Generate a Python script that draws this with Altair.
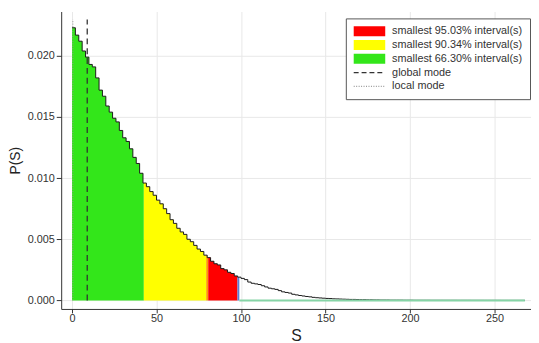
import altair as alt
import pandas as pd

# ---------------- data ----------------
bin_width = 2
# histogram heights P(S) per bin of width 2, in units of 1e-4, starting at S = 0
p_e4 = [
    223, 217, 212, 204, 199, 193, 191, 182, 172, 167,      # 0-20
    159, 154, 149, 146, 139, 133, 130, 124, 117, 112,      # 20-40
    104, 96, 93, 89, 86, 82, 79, 75, 71, 66,               # 40-60
    63, 59, 56, 54, 50, 48, 45, 42, 40, 37,                # 60-80
    35, 32, 30, 29, 26, 25, 23, 22, 20, 19,                # 80-100
    18, 17, 15, 14, 13.5, 13, 12, 11, 10, 9.5,             # 100-120
    9, 8, 7, 6.5, 6, 5, 4.5, 4, 3.6, 3.2,                  # 120-140
    2.9, 2.5, 2.2, 2.0, 1.8, 1.6, 1.5, 1.3, 1.2, 1.1,      # 140-160
    1.0, 0.9, 0.8, 0.8, 0.7, 0.6, 0.6, 0.5, 0.5, 0.4,      # 160-180
    0.4, 0.3, 0.3, 0.3, 0.2, 0.2, 0.2, 0.2, 0.15, 0.15,    # 180-200
    0.15, 0.1, 0.1, 0.1, 0.1, 0.1, 0.08, 0.08, 0.08, 0.08, # 200-220
    0.06, 0.06, 0.06, 0.06, 0.05, 0.05, 0.05, 0.05, 0.04, 0.04,  # 220-240
    0.04, 0.04, 0.03, 0.03, 0.03, 0.03, 0.03, 0.02, 0.02, 0.02,  # 240-260
    0.02, 0.02, 0.02, 0.02,                                # 260-268
]

region_names = ["r66", "r90", "edge90", "r95", "edge95"]
region_start = [0.0, 42.5, 79.4, 80.6, 97.9]
region_end = [42.5, 79.4, 80.6, 97.9, 99.0]
region_fill = ["#33e61a", "#ffff00", "#ff9a00", "#ff0000", "#5b7fd6"]

tail_start = [99.0]
tail_end = [268.0]

global_mode = [9.0]
local_mode = [0.5]

legend_labels = [
    "smallest 95.03% interval(s)",
    "smallest 90.34% interval(s)",
    "smallest 66.30% interval(s)",
    "global mode",
    "local mode",
]
legend_fill = ["#ff0000", "#ffff00", "#33e61a", "transparent", "transparent"]
legend_stroke = ["transparent", "transparent", "transparent", "#333333", "#999999"]
legend_dash = [[1, 0], [1, 0], [1, 0], [5, 3], [1, 1.5]]
patch = "M-1,-0.32H1V0.32H-1Z"
stroke_line = "M-1,0H1"
legend_shape = [patch, patch, patch, stroke_line, stroke_line]

x_ticks = [0, 50, 100, 150, 200, 250]
y_ticks = [0.0, 0.005, 0.010, 0.015, 0.020]

# ---------------- derived tables ----------------
probs = [v * 1e-4 for v in p_e4]
n = len(probs)
edges = [i * bin_width for i in range(n + 1)]


def p_at(s):
    i = int(s // bin_width)
    return probs[max(0, min(i, n - 1))]


step_df = pd.DataFrame({"S": edges, "P": probs + [probs[-1]]})

rows = []
for name, a, b in zip(region_names, region_start, region_end):
    xs = [a] + [e for e in edges if a < e < b] + [b]
    ys = [p_at(x) for x in xs[:-1]] + [p_at(b - 1e-9)]
    for x, y in zip(xs, ys):
        rows.append({"region": name, "S": x, "P": y, "base": 0.0})
region_df = pd.DataFrame(rows)

ytop = max(probs) * 1.03
modes_df = pd.DataFrame({
    "S": global_mode + local_mode,
    "kind": ["global", "local"],
    "bot": [0.0, 0.0],
    "top": [ytop, ytop],
})
tail_df = pd.DataFrame({"start": tail_start, "end": tail_end, "level": [0.0]})
legend_df = pd.DataFrame({"entry": legend_labels})

# ---------------- scales / axes ----------------
FONT = "Liberation Sans"
x_scale = alt.Scale(domain=[-6.41, 271.6], nice=False, zero=False)
y_scale = alt.Scale(domain=[-0.0007, 0.02363], nice=False, zero=False)

x_axis = alt.Axis(values=x_ticks, title="S", grid=True, gridColor="#e8e8e8",
                  domainColor="#333333", tickColor="#333333", tickSize=4,
                  labelFont=FONT, labelFontSize=11, labelColor="#333333",
                  labelPadding=0, titleFont=FONT, titleFontSize=16,
                  titleFontWeight="normal", titleColor="#222222", titlePadding=4)
y_axis = alt.Axis(values=y_ticks, format=".3f", title="P(S)", grid=True,
                  gridColor="#e8e8e8", domainColor="#333333", tickColor="#333333",
                  tickSize=5, labelFont=FONT, labelFontSize=11, labelColor="#333333",
                  labelPadding=2, titleFont=FONT, titleFontSize=14,
                  titleFontWeight="normal", titleColor="#222222", titlePadding=5)

X = alt.X("S:Q", scale=x_scale, axis=x_axis)
Y = alt.Y("P:Q", scale=y_scale, axis=y_axis)

area_layers = []
for name, col in zip(region_names, region_fill):
    area_layers.append(
        alt.Chart(region_df).transform_filter(f"datum.region == '{name}'")
        .mark_area(interpolate="step-after", color=col, opacity=1)
        .encode(x=X, y=Y, y2="base:Q")
    )

line = alt.Chart(step_df).mark_line(interpolate="step-after", color="#1a1a1a", strokeWidth=1).encode(
    x=X, y=Y
)

tail = alt.Chart(tail_df).mark_rule(color="#86d4a6", strokeWidth=2).encode(
    x=alt.X("start:Q", scale=x_scale), x2="end:Q", y=alt.Y("level:Q", scale=y_scale)
)

gmode = alt.Chart(modes_df).transform_filter("datum.kind == 'global'").mark_rule(
    color="#333333", strokeWidth=1.3, strokeDash=[6, 4]
).encode(x=alt.X("S:Q", scale=x_scale), y=alt.Y("bot:Q", scale=y_scale), y2="top:Q")

lmode = alt.Chart(modes_df).transform_filter("datum.kind == 'local'").mark_rule(
    color="#999999", strokeWidth=1, strokeDash=[1, 1.5]
).encode(x=alt.X("S:Q", scale=x_scale), y=alt.Y("bot:Q", scale=y_scale), y2="top:Q")

leg = alt.Legend(title=None, orient="none", legendX=289, legendY=7, clipHeight=12,
                 symbolSize=1024, symbolStrokeWidth=1.2, symbolOpacity=1,
                 labelFont=FONT, labelFontSize=11, labelColor="#333333", labelOffset=6,
                 labelLimit=300, rowPadding=2, padding=7, strokeColor="#555555",
                 fillColor="white", cornerRadius=0)

legend_layer = alt.Chart(legend_df).transform_filter("false").mark_point(filled=True, opacity=1).encode(
    fill=alt.Fill("entry:N", scale=alt.Scale(domain=legend_labels, range=legend_fill), legend=leg),
    stroke=alt.Stroke("entry:N", scale=alt.Scale(domain=legend_labels, range=legend_stroke), legend=leg),
    strokeDash=alt.StrokeDash("entry:N", scale=alt.Scale(domain=legend_labels, range=legend_dash), legend=leg),
    shape=alt.Shape("entry:N", scale=alt.Scale(domain=legend_labels, range=legend_shape), legend=leg),
)

chart = alt.layer(*area_layers, line, tail, gmode, lmode, legend_layer).properties(
    width=477, height=302,
    autosize=alt.AutoSizeParams(type="none"),
    padding={"left": 54, "top": 1, "right": 0, "bottom": 32},
    background="white",
).configure_view(strokeWidth=0)

chart.save("out.html", embed_options={"renderer": "svg", "actions": False})
